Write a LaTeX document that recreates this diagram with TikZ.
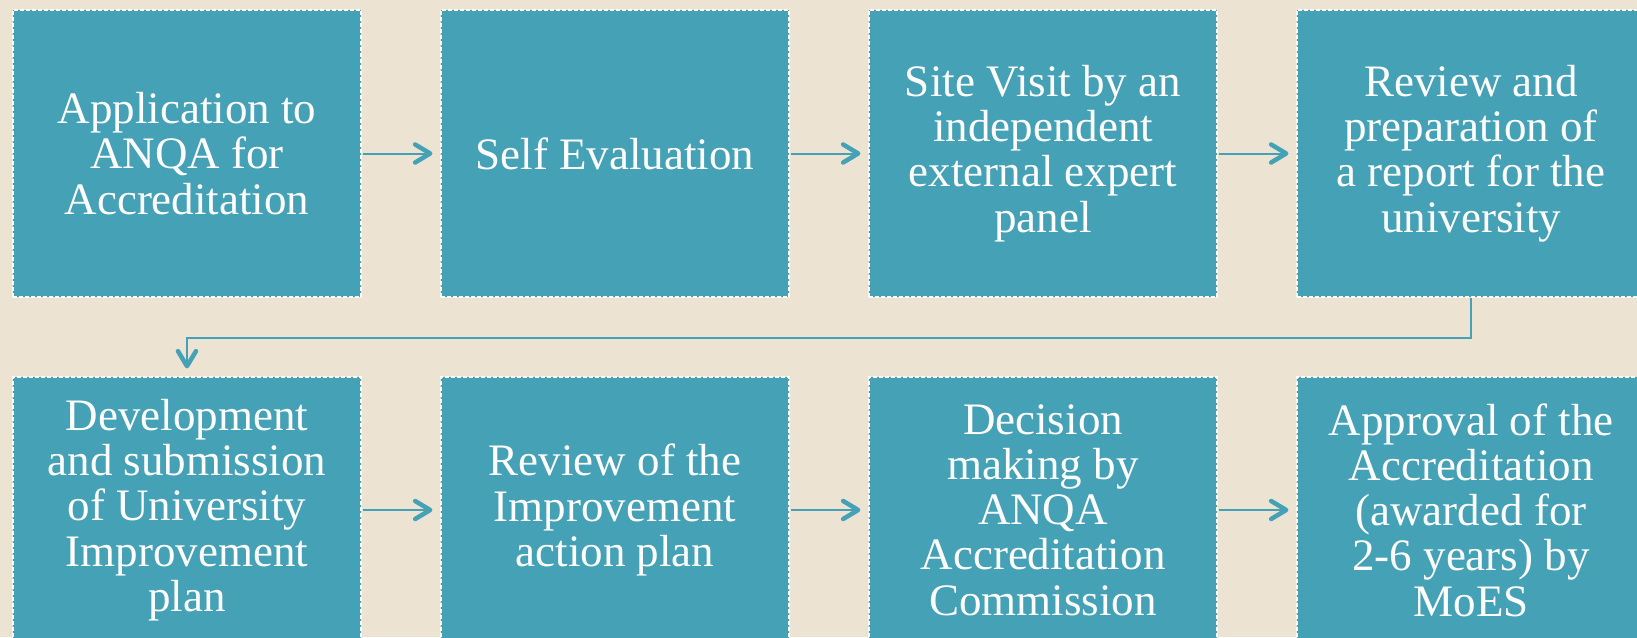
\documentclass[tikz,border=0pt]{standalone}
\usepackage{fontspec}
\setmainfont{Liberation Serif}
\usetikzlibrary{arrows.meta}
\definecolor{bgsand}{RGB}{236,227,211}
\definecolor{boxteal}{RGB}{68,161,182}
\begin{document}
\begin{tikzpicture}[x=1pt,y=-1pt,
  stage/.style={rectangle, fill=boxteal, draw=white, line width=1.2pt, dash pattern=on 4pt off 2pt, minimum width=348pt, inner sep=0pt, align=center, text=white, font=\fontsize{45}{45.3}\selectfont},
  toprow/.style={stage, minimum height=287pt},
  lowrow/.style={stage, minimum height=266pt},
  flow/.style={draw=boxteal, line width=2pt, shorten >=8pt, shorten <=1pt, -{Straight Barb[length=15pt,width=18pt,line width=4.5pt,round]}}]
\clip (0,0) rectangle (1637,637);
\fill[bgsand] (0,0) rectangle (1637,637);
\node[toprow] (stage0) at (187,153.5){Application to\\ANQA for\\Accreditation};
\node[toprow] (stage1) at (615,153.5){Self Evaluation};
\node[toprow] (stage2) at (1043,153.5){Site Visit by an\\independent\\external expert\\panel};
\node[toprow] (stage3) at (1471,153.5){Review and\\preparation of\\a report for the\\university};
\draw[flow](stage0) -- (stage1);
\draw[flow](stage1) -- (stage2);
\draw[flow](stage2) -- (stage3);
\node[lowrow] (stage4) at (187,510){Development\\and submission\\of University\\Improvement\\plan};
\node[lowrow] (stage5) at (615,510){Review of the\\Improvement\\action plan};
\node[lowrow] (stage6) at (1043,510){Decision\\making by\\ANQA\\Accreditation\\Commission};
\node[lowrow] (stage7) at (1471,510){Approval of the\\Accreditation\\(awarded for\\2-6 years) by\\MoES};
\draw[flow](stage4) -- (stage5);
\draw[flow](stage5) -- (stage6);
\draw[flow](stage6) -- (stage7);
\draw[flow, shorten <=0pt](stage3.south) -- ++(0,40) -| (stage4.north);
\end{tikzpicture}
\end{document}
